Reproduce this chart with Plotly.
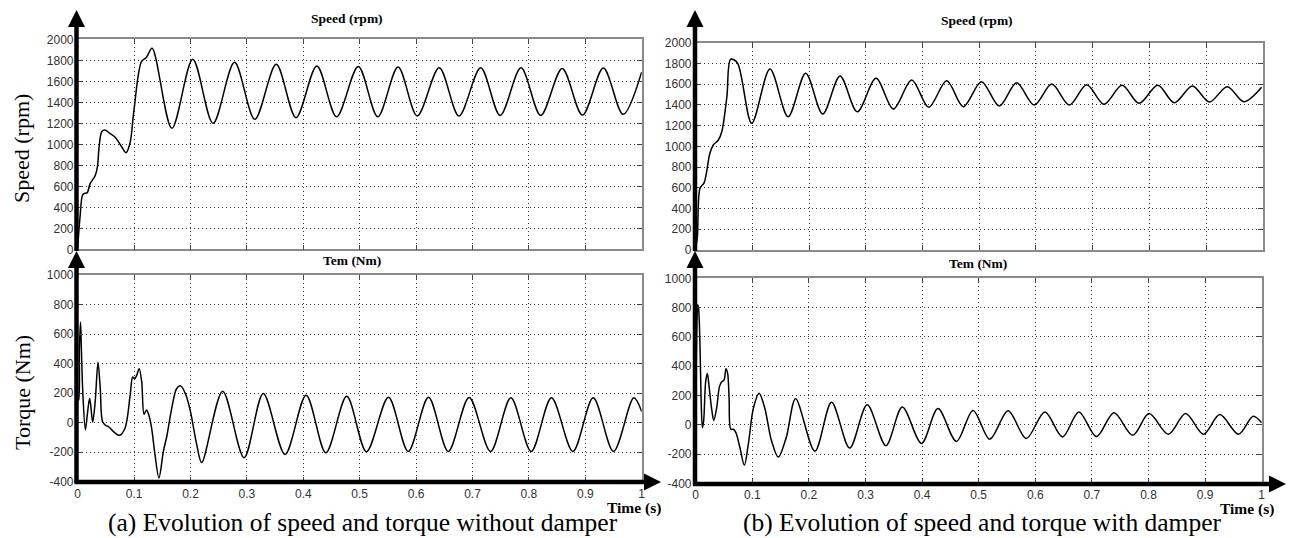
import plotly.graph_objects as go

# ---------------- data ----------------
# (a) without damper - speed (rpm)
t_speed_a = [0, 0.004, 0.009, 0.014, 0.017, 0.022, 0.031, 0.035, 0.038, 0.0426, 0.048, 0.057,
             0.066, 0.078, 0.0856, 0.0927, 0.0998, 0.113, 0.122, 0.132, 0.167, 0.204, 0.240,
             0.278, 0.314, 0.352, 0.387, 0.424, 0.459, 0.4975, 0.532, 0.568, 0.602, 0.641,
             0.676, 0.7145, 0.749, 0.786, 0.821, 0.859, 0.895, 0.932, 0.967, 1.0]
speed_a = [10, 300, 520, 535, 540, 625, 700, 787, 977, 1120, 1135, 1105,
           1070, 977, 920, 1010, 1327, 1787, 1830, 1914, 1152, 1810, 1200,
           1781, 1238, 1762, 1253, 1746, 1263, 1740, 1263, 1735, 1270, 1730,
           1270, 1728, 1275, 1728, 1275, 1722, 1278, 1726, 1285, 1690]

# (a) without damper - torque (Nm)
t_torque_a = [0, 0.0015, 0.003, 0.005, 0.0065, 0.009, 0.0136, 0.017, 0.021, 0.023, 0.0266,
              0.031, 0.036, 0.040, 0.044, 0.050, 0.054, 0.063, 0.074, 0.084, 0.093, 0.0975,
              0.101, 0.1046, 0.109, 0.1135, 0.1176, 0.122, 0.126, 0.131, 0.137, 0.144, 0.152,
              0.158, 0.1667, 0.1755, 0.1826, 0.192, 0.200, 0.211, 0.2199, 0.257, 0.295,
              0.329, 0.3676, 0.405, 0.440, 0.477, 0.512, 0.551, 0.586, 0.622, 0.657, 0.694,
              0.732, 0.768, 0.804, 0.840, 0.878, 0.914, 0.950, 0.986, 1.0]
torque_a = [150, 153, 510, 681, 498, 209, -48, 53, 164, 120, 3,
            142, 409, 231, 8, -20, -25, -59, -86, -36, 186, 309,
            298, 320, 365, 276, 57, 86, 53, -36, -215, -375, -193,
            -92, 97, 231, 249, 186, 75, -148, -270, 213, -237,
            198, -215, 186, -204, 178, -197, 172, -195, 172, -195, 170,
            -195, 168, -195, 168, -195, 168, -195, 168, 75]

# (b) with damper - speed (rpm)
t_speed_b = [0, 0.003, 0.0076, 0.015, 0.025, 0.031, 0.040, 0.046, 0.055, 0.0617, 0.0734,
             0.0988, 0.131, 0.163, 0.194, 0.224, 0.2545, 0.285, 0.318, 0.3485, 0.381,
             0.411, 0.4427, 0.472, 0.504, 0.5355, 0.566, 0.597, 0.628, 0.659, 0.6896,
             0.720, 0.752, 0.782, 0.815, 0.844, 0.876, 0.906, 0.9375, 0.967, 0.998]
speed_b = [16, 128, 595, 650, 933, 1013, 1061, 1141, 1479, 1840, 1807,
           1222, 1746, 1286, 1705, 1312, 1679, 1334, 1656, 1360, 1640,
           1377, 1633, 1383, 1624, 1389, 1614, 1399, 1601, 1399, 1595,
           1405, 1589, 1415, 1589, 1421, 1582, 1428, 1575, 1431, 1570]

# (b) with damper - torque (Nm)
t_torque_b = [0, 0.002, 0.0035, 0.005, 0.0076, 0.0094, 0.0118, 0.014, 0.0176, 0.0206,
              0.024, 0.028, 0.032, 0.037, 0.042, 0.046, 0.050, 0.0535, 0.0565, 0.059,
              0.062, 0.0665, 0.071, 0.078, 0.086, 0.093, 0.102, 0.112, 0.122, 0.134,
              0.146, 0.160, 0.1765, 0.2106, 0.240, 0.272, 0.303, 0.336, 0.365, 0.399,
              0.428, 0.4606, 0.490, 0.5195, 0.552, 0.584, 0.617, 0.648, 0.677, 0.708,
              0.739, 0.772, 0.801, 0.835, 0.8656, 0.897, 0.926, 0.959, 0.985, 1.0]
torque_b = [204, 662, 819, 796, 539, 204, -20, 25, 293, 349,
            248, 114, 29, 114, 260, 293, 304, 383, 349, 181,
            -31, -31, -54, -154, -277, -132, 114, 215, 114, -110,
            -221, -87, 177, -181, 154, -159, 136, -143, 121, -128,
            110, -114, 98, -98, 96, -94, 87, -83, 87, -81,
            81, -72, 76, -65, 76, -65, 69, -65, 58, 13]

speed_ticks = list(range(0, 2001, 200))
torque_ticks = list(range(-400, 1001, 200))
time_ticks = [0, 0.1, 0.2, 0.3, 0.4, 0.5, 0.6, 0.7, 0.8, 0.9, 1]
time_labels = ["0", "0.1", "0.2", "0.3", "0.4", "0.5", "0.6", "0.7", "0.8", "0.9", "1"]

# ---------------- layout helpers ----------------
W, H = 1291, 538
def fx(x):
    return x / W
def fy(y):
    return 1 - y / H

SERIF = "Liberation Serif, Times New Roman, serif"
SANS = "Liberation Sans, Arial, sans-serif"

fig = go.Figure()

def add_line(t, v, ax):
    fig.add_trace(go.Scatter(x=t, y=v, mode="lines",
                             line=dict(color="black", width=1.5, shape="spline", smoothing=0.9),
                             xaxis="x" + ax, yaxis="y" + ax, showlegend=False,
                             hoverinfo="x+y"))

add_line(t_speed_a, speed_a, "")
add_line(t_torque_a, torque_a, "2")
add_line(t_speed_b, speed_b, "3")
add_line(t_torque_b, torque_b, "4")

common = dict(showgrid=True, griddash="1px,3px", gridcolor="#333", gridwidth=1,
              showline=True, linecolor="#8a8a8a", linewidth=1.5, mirror="ticks",
              ticks="inside", ticklen=5, tickcolor="#444", zeroline=False,
              tickfont=dict(family=SANS, size=12, color="#333"))

def xax(dom, anchor, labels):
    d = dict(common)
    d.update(domain=dom, anchor=anchor, range=[0, 1], tickvals=time_ticks,
             ticktext=time_labels, showticklabels=labels)
    return d

def yax(dom, anchor, rng, ticks):
    d = dict(common)
    d.update(domain=dom, anchor=anchor, range=rng, tickvals=ticks,
             ticktext=[str(v) for v in ticks])
    return d

fig.update_layout(
    width=W, height=H, margin=dict(l=0, r=0, t=0, b=0, autoexpand=False),
    autosize=False,
    paper_bgcolor="white", plot_bgcolor="white",
    xaxis=xax([fx(77.7), fx(641.7)], "y", False),
    yaxis=yax([fy(249.3), fy(39.3)], "x", [0, 2000], speed_ticks),
    xaxis2=xax([fx(77.7), fx(641.7)], "y2", True),
    yaxis2=yax([fy(481.7), fy(275)], "x2", [-400, 1000], torque_ticks),
    xaxis3=xax([fx(695.7), fx(1262.7)], "y3", False),
    yaxis3=yax([fy(250), fy(42.7)], "x3", [0, 2000], speed_ticks),
    xaxis4=xax([fx(695.7), fx(1261.7)], "y4", True),
    yaxis4=yax([fy(483.3), fy(278.3)], "x4", [-400, 1000], torque_ticks),
)

# ---------------- thick black arrows ----------------
shapes = []
def vline_arrow(x, y_bottom, y_tip, base_len=17, half=8.5, w=4.5):
    shapes.append(dict(type="line", xref="paper", yref="paper",
                       x0=fx(x), x1=fx(x), y0=fy(y_bottom), y1=fy(y_tip + base_len - 1),
                       line=dict(color="black", width=w)))
    shapes.append(dict(type="path", xref="paper", yref="paper",
                       path=f"M {fx(x - half)} {fy(y_tip + base_len)} L {fx(x + half)} {fy(y_tip + base_len)} L {fx(x)} {fy(y_tip)} Z",
                       fillcolor="black", line=dict(color="black", width=0)))

def hline_arrow(y, x_left, x_tip, base_len=17, half=8.5, w=4.5):
    shapes.append(dict(type="line", xref="paper", yref="paper",
                       x0=fx(x_left), x1=fx(x_tip - base_len + 1), y0=fy(y), y1=fy(y),
                       line=dict(color="black", width=w)))
    shapes.append(dict(type="path", xref="paper", yref="paper",
                       path=f"M {fx(x_tip - base_len)} {fy(y - half)} L {fx(x_tip - base_len)} {fy(y + half)} L {fx(x_tip)} {fy(y)} Z",
                       fillcolor="black", line=dict(color="black", width=0)))

vline_arrow(76.5, 251, 10)
vline_arrow(76.5, 483, 251)
hline_arrow(482, 74.5, 661)
vline_arrow(695, 251, 10)
vline_arrow(695, 485, 251)
hline_arrow(484, 693, 1286)
fig.update_layout(shapes=shapes)

# ---------------- texts ----------------
ann = []
def text(x, y, s, size, bold=False, angle=0, family=SERIF, xanchor="center"):
    ann.append(dict(x=fx(x), y=fy(y), xref="paper", yref="paper", text=("<b>%s</b>" % s) if bold else s,
                    showarrow=False, textangle=angle, xanchor=xanchor, yanchor="middle",
                    font=dict(family=family, size=size, color="black")))

text(347, 18, "Speed (rpm)", 13.5, bold=True)
text(352, 260, "Tem (Nm)", 13.5, bold=True)
text(977, 21, "Speed (rpm)", 13.5, bold=True)
text(978, 263, "Tem (Nm)", 13.5, bold=True)
text(22, 149, "Speed (rpm)", 22, angle=-90)
text(22, 393, "Torque (Nm)", 22, angle=-90)
text(634, 508, "Time (s)", 15.5, bold=True)
text(1247, 509, "Time (s)", 15.5, bold=True)
text(363, 522, "(a) Evolution of speed and torque without damper", 25.5)
text(982, 522, "(b) Evolution of speed and torque with damper", 25.5)
fig.update_layout(annotations=ann)

fig.write_html("out.html", config={"displayModeBar": False},
               post_script="document.body.style.margin='0';document.body.style.overflow='hidden';")
